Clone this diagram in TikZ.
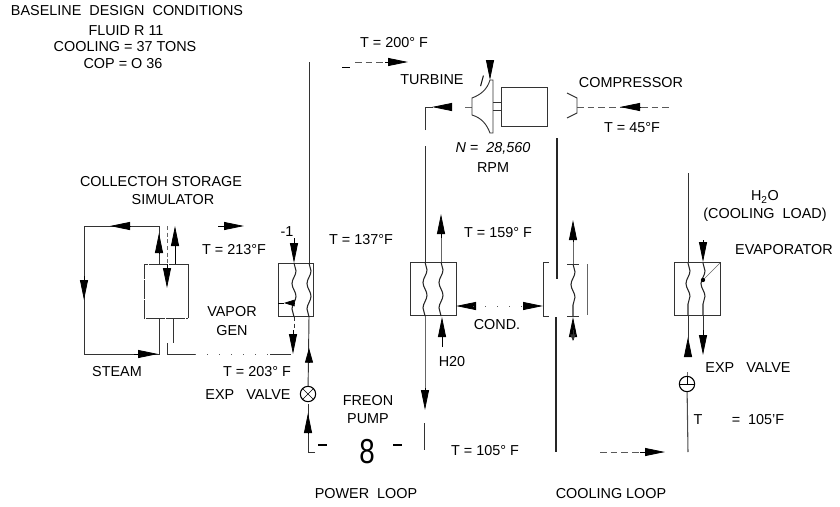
\documentclass[tikz,border=0pt]{standalone}
\usepackage{fontspec}
\setmainfont{Liberation Sans}
\usetikzlibrary{arrows.meta,decorations.pathmorphing}
\tikzset{
  pipe/.style={line width=0.7pt,black!80},
  hvy/.style={line width=1.1pt,black!85},
  thin pipe/.style={line width=0.4pt,black!60},
  sparse/.style={line width=0.7pt,black!80,dash pattern=on 14pt off 1pt},
  dashp/.style={line width=0.5pt,black!65,dash pattern=on 5pt off 3pt},
  dotp/.style={line width=0.5pt,black!65,dash pattern=on 1pt off 8pt},
  flow/.style={-{Triangle[length=15pt,width=6pt]},line width=0.6pt,black},
  hxbox/.style={draw,line width=0.7pt,black!80,rectangle,minimum width=#1*0.75pt,minimum height=40pt,inner sep=0pt},
  wavy/.style={line width=0.8pt,black!85,decorate,decoration={snake,amplitude=1.5pt,segment length=19pt}},
  valve/.style={circle,draw,line width=0.8pt,minimum size=11.5pt,inner sep=0pt},
  lbl/.style={font=\fontsize{10.8}{13}\selectfont,inner sep=0pt},
}
\begin{document}
\begin{tikzpicture}[x=0.75pt,y=-0.75pt]
  \useasboundingbox (0,0) rectangle (840,507);
  % ---- text ----
  \foreach \n/\x/\y/\t in {hdra/127/11/{BASELINE\ \ DESIGN\ \ CONDITIONS}, hdrb/126/31/{FLUID R 11},
    hdrc/125/47/{COOLING = 37 TONS}, hdrd/123/64/{COP = O 36}, tsup/394/43/{T = 200° F},
    turb/432/80/{TURBINE}, slash/482/81/{/}, comp/631/83/{COMPRESSOR}, tcomp/632/128/{T = 45°F},
    rpm/493/168/{RPM}, colla/161/182/{COLLECTOH STORAGE}, collb/173/200/{SIMULATOR},
    tcoll/234/250/{T = 213°F}, minus/287/232/{-1}, tmid/361/240/{T = 137°F}, tcond/498/233/{T = 159° F},
    vapa/232/312/{VAPOR}, vapb/232/331/{GEN}, cond/497/325/{COND.}, htwo/452/362/{H20},
    steam/117/372/{STEAM}, tvap/257/372/{T = 203° F}, expa/248/395/{EXP\ \ \ VALVE}, fre/368/401/{FREON},
    pmp/368/419/{PUMP}, tpump/485/451/{T = 105° F}, pwr/366/494/{POWER\ \ LOOP}, cool/611/494/{COOLING LOOP},
    load/765/215/{(COOLING\ \ LOAD)}, evap/784/250/{EVAPORATOR}, expb/748/368/{EXP\ \ \ VALVE},
    tevap/698/420/{T}, tevab/758/420/{= \ 105'F}}{
    \node[lbl] (\n) at (\x,\y) {\t};
  }
  \node[lbl] (speed) at (493,148) {\itshape N = \ 28,560};
  \node[lbl] (water) at (765,197) {H$_{\mathrm{2}}$O};
  \node[font=\fontsize{26}{26}\selectfont,inner sep=0pt,xscale=0.8] (pumpsym) at (367,452) {8};
  % ---- boxes and coils ----
  \node[hxbox=35] (vg) at (296,290) {};
  \node[hxbox=46] (cd) at (433,289) {};
  \node[hxbox=46] (ev) at (697,289) {};
  \foreach \x/\a/\b in {294/263/317, 309/263/317, 425/262/316, 441/262/316, 573/264/316, 688/263/315, 703/263/315}
    \draw[wavy] (\x,\a) -- (\x,\b);
  % simulator box and condenser bracket
  \draw[sparse] (188,264) -- (144,264) -- (144,318) -- (188,318);
  \draw[pipe] (188,264) -- (188,318);
  \draw[pipe] (549,262) -- (543,262) -- (543,316) -- (549,316);
  \draw[pipe,black!60] (587,264) -- (587,315);
  \draw[pipe] (567,264) -- (579,264) (567,316) -- (579,316);
  % ---- collector loop ----
  \draw[pipe] (159,264) -- (159,226) -- (84,226) -- (84,354) -- (159,354) -- (159,318);
  \draw[flow] (130,226) -- (110,226);
  \draw[flow] (84,276) -- (84,300);
  \draw[flow] (134,354) -- (158,354);
  \draw[flow] (218,226) -- (244,226);
  \draw[flow] (159,253) -- (159,233);
  \draw[flow] (175,264) -- (175,226);
  \draw[thin pipe,densely dashed] (167,226) -- (167,264);
  \draw[flow] (167,264) -- (167,288);
  \draw[pipe] (173,318) -- (173,343) (167,343) -- (167,354) -- (195,354);
  \draw[dotp] (195,354) -- (270,354);
  \draw[pipe] (270,354) -- (291,354);
  % ---- vapor generator ----
  \draw[flow] (294,238) -- (294,263);
  \draw[pipe,densely dashed] (294,317) -- (294,330);
  \draw[flow] (293,330) -- (293,354);
  \draw[-{Triangle[length=8pt,width=5pt]},line width=0.5pt] (293,303) -- (284,303);
  \draw[line width=0.5pt] (284,303) -- (278,303);
  \draw[pipe] (309,62) -- (309,263);
  \node[valve] (vala) at (308,394) {};
  \draw[line width=0.5pt] (vala.north west) -- (vala.south east) (vala.north east) -- (vala.south west);
  \draw[pipe] (309,317) -- (vala);
  \draw[-{Triangle[length=11pt,width=6pt]},line width=0.6pt] (309,363) -- (309,348);
  \draw[pipe] (315,452) -- (308,452) -- (308,404);
  \draw[flow] (308,433) -- (308,413);
  \draw[line width=1.1pt] (318,445) -- (327,445) (393,445) -- (402,445);
  % ---- turbine loop ----
  \draw[line width=0.7pt] (342,67) -- (350,67);
  \draw[dashp] (355,62) -- (385,62);
  \draw[flow] (385,62) -- (408,62);
  \draw[pipe] (425,130) -- (425,107) -- (433,107);
  \draw[flow] (450,107) -- (432,107);
  \draw[thin pipe] (465,107) -- (472,107);
  \draw[pipe] (425,146) -- (425,262);
  \draw[thin pipe] (425,316) -- (425,390);
  \draw[flow] (425,388) -- (425,410);
  \draw[pipe] (424,423) -- (424,450);
  \draw[flow] (442,347) -- (442,317);
  \draw[thin pipe] (441,262) -- (441,236);
  \draw[flow] (441,238) -- (441,214);
  % turbine, shaft, compressor
  \draw[pipe] (490,80) .. controls (487,90) and (480,95) .. (472,98) -- (472,115)
    .. controls (482,118) and (487,125) .. (490,133) -- (493,133) -- (493,80) -- cycle;
  \draw[flow] (490,62) -- (490,80);
  \draw[pipe] (493,102) -- (501,102) (493,110) -- (501,110);
  \draw[pipe] (501,87) rectangle (547,126);
  \draw[pipe] (567,93) -- (577,98) -- (577,113) -- (567,118);
  \draw[dashp] (577,107) -- (670,107);
  \draw[flow] (640,107) -- (620,107);
  % ---- condenser ----
  \draw[flow] (473,306) -- (456,306);
  \draw[dotp] (473,306) -- (523,306);
  \draw[flow] (523,306) -- (543,306);
  \draw[thin pipe] (573,264) -- (573,240);
  \draw[flow] (573,242) -- (573,220);
  \draw[flow] (573,340) -- (573,317);
  \draw[-{Triangle[length=5pt,width=4pt]},pipe] (573,330) -- (573,341);
  \draw[hvy] (557,138) -- (557,279);
  \draw[hvy] (556,317) -- (556,452);
  % ---- cooling loop ----
  \draw[dashp] (600,452) -- (640,452);
  \draw[flow] (640,452) -- (665,452);
  \draw[pipe] (688,173) -- (688,263);
  \draw[flow] (703,240) -- (703,262);
  \draw[flow] (688,355) -- (688,337);
  \draw[pipe] (688,315) -- (688,340);
  \draw[pipe] (703,315) -- (703,332);
  \draw[flow] (703,330) -- (703,355);
  \draw[thin pipe] (703,280) -- (720,263);
  \fill (703,280) circle (1.6pt);
  \node[valve] (valb) at (687,384) {};
  \draw[line width=0.5pt] (valb.west) -- (valb.east) (valb.center) -- (valb.north);
  \draw[line width=0.8pt,black!70] (valb) -- (688,452);
  \draw[thin pipe] (687,372) -- (valb);
\end{tikzpicture}
\end{document}
